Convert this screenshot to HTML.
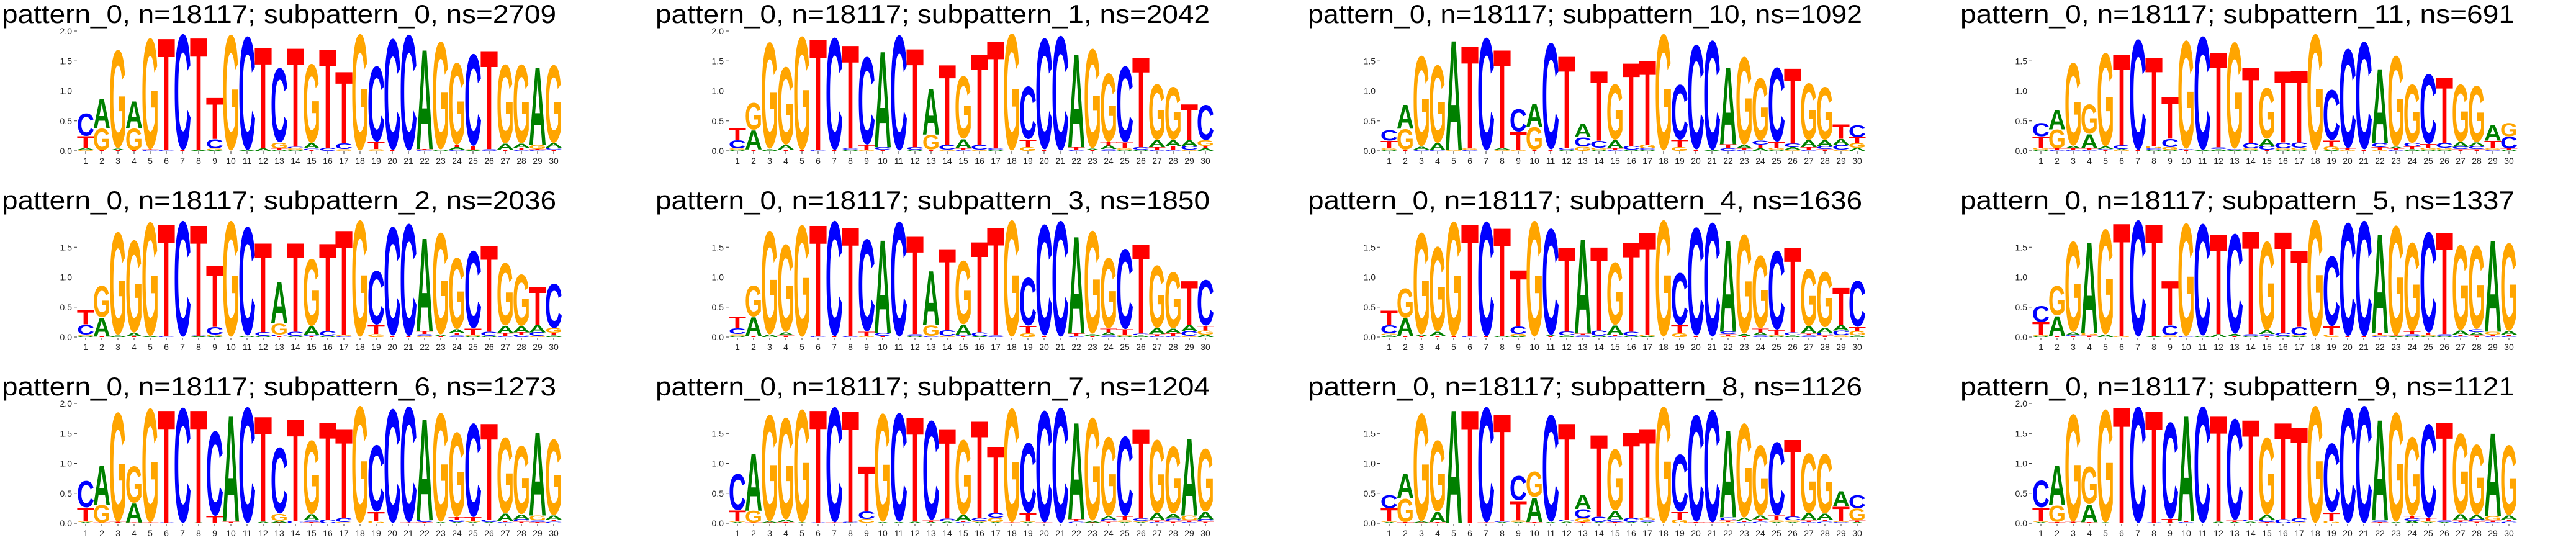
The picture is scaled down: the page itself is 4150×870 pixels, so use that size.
<!DOCTYPE html>
<html><head><meta charset="utf-8"><style>
html,body{margin:0;padding:0;background:#fff;}
svg{display:block;}
text{font-family:"Liberation Sans",sans-serif;}
</style></head><body>
<svg id="fig" width="4150" height="870" viewBox="0 0 4150 870" xmlns="http://www.w3.org/2000/svg"></svg>
<script>
const positions = [1,2,3,4,5,6,7,8,9,10,11,12,13,14,15,16,17,18,19,20,21,22,23,24,25,26,27,28,29,30];
const yTicks = [0, 0.5, 1.0, 1.5, 2.0];
const yTickLabels = ["0.0","0.5","1.0","1.5","2.0"];
const titles = ["subpattern_0","subpattern_1","subpattern_10","subpattern_11","subpattern_2","subpattern_3","subpattern_4","subpattern_5","subpattern_6","subpattern_7","subpattern_8","subpattern_9"];
const nsValues = [2709,2042,1092,691,2036,1850,1636,1337,1273,1204,1126,1121];
const patternN = 18117;
const showTop = [true,true,false,false,false,false,false,false,true,false,false,true];

const sp0_A=[.03,.51,.03,.46,0,0,0,.01,.01,0,.01,.04,.02,.02,.09,0,0,0,0,0,0,1.71,.02,.04,.01,0,.1,.07,1.33,.08];
const sp0_C=[.38,0,0,0,.01,.01,1.98,0,.16,0,1.94,0,1.27,.03,.03,.05,.1,0,1.29,1.9,1.98,.01,0,.02,1.57,.03,0,.02,.01,.03];
const sp0_G=[.02,.37,1.68,.37,1.9,0,0,0,.03,1.98,0,0,.1,.02,1.35,0,.03,1.99,.03,0,0,0,1.84,1.4,.01,0,1.35,1.35,.07,1.33];
const sp0_T=[.2,.01,.01,.01,.01,1.93,.01,1.94,.71,0,0,1.74,.02,1.7,.01,1.7,1.23,0,.12,.01,0,.02,0,.04,.06,1.7,.02,.03,.02,.02];

const sp1_A=[.02,.33,.03,.08,0,0,0,.02,0,1.65,0,.02,.79,0,.16,0,.02,0,0,0,0,1.6,.03,.06,.02,.02,.12,.1,.1,.04];
const sp1_C=[.14,0,0,0,0,.01,1.92,.02,1.5,.04,1.97,.04,0,.08,.02,.08,.02,0,.9,1.9,1.96,.02,0,.03,1.3,.04,.02,.02,.06,.6];
const sp1_G=[.02,.46,1.82,1.33,1.94,0,0,0,.02,0,0,0,.25,.02,1.07,.02,0,2.0,.06,0,0,0,1.7,1.17,.02,0,.95,.9,.02,.1];
const sp1_T=[.2,.02,0,.02,.01,1.91,.01,1.78,.08,.02,0,1.7,.02,1.38,.02,1.56,1.85,0,.13,.02,0,.04,.01,.06,.1,1.55,.04,.06,.62,.04];

const sp10_A=[.02,.41,.05,.12,1.88,0,0,.03,0,.4,0,.02,.23,.02,.14,.02,.02,0,0,0,.01,1.33,.06,.04,.02,.04,.12,.1,.1,.05];
const sp10_C=[.18,0,.02,.01,0,.02,1.93,0,.38,0,1.82,.03,.16,.12,.02,.06,.02,0,.94,1.79,1.87,.04,.02,.07,1.27,.06,.02,.05,.08,.2];
const sp10_G=[.02,.35,1.55,1.33,.02,.02,0,.02,.02,.38,0,0,.07,.03,.95,0,.06,1.99,.06,0,0,0,1.5,1.07,.03,.02,.97,.9,.02,.08];
const sp10_T=[.13,.02,0,0,0,1.76,0,1.69,.3,.02,.02,1.58,0,1.2,.02,1.43,1.45,0,.12,.02,0,.07,.02,.06,.1,1.3,.04,.03,.25,.1];

const sp11_A=[.02,.34,.04,.24,.04,.02,0,.02,.02,0,.01,.03,.01,.02,.12,.02,.02,0,.01,0,0,1.28,.03,.03,.02,.02,.08,.06,.27,.02];
const sp11_C=[.23,.02,.02,.02,.02,.06,1.89,.02,.14,.02,1.94,.03,.02,.09,.06,.1,.09,0,.86,1.7,1.84,.07,.02,.06,1.2,.08,.04,.05,.02,.2];
const sp11_G=[.03,.32,1.42,.5,1.6,.01,0,.04,.04,1.85,0,0,1.82,.02,.87,.02,.03,1.99,.06,.02,0,.02,1.55,1.0,.03,.03,.98,.96,.02,.23];
const sp11_T=[.19,.02,.02,.02,.01,1.57,.01,1.53,.72,.01,0,1.64,0,1.3,.02,1.23,1.24,0,.11,.02,.02,.04,.02,.04,.06,1.13,.03,.03,.13,.02];

const sp2_A=[.02,.32,.03,.06,.01,0,0,.01,.01,0,.02,.02,.71,.02,.15,.02,0,0,0,0,0,1.6,.03,.06,.02,.02,.12,.1,.12,.03];
const sp2_C=[.17,0,0,0,0,.01,1.98,.01,.13,0,1.86,.06,.03,.07,.02,.08,.02,0,.92,1.86,1.92,.03,0,.03,1.33,.07,.02,.04,.06,.76];
const sp2_G=[.02,.54,1.76,1.58,1.95,0,0,0,.03,1.98,0,0,.19,0,1.15,0,.02,1.99,.05,0,0,.02,1.74,1.22,.02,0,1.07,.88,.02,.08];
const sp2_T=[.24,.01,0,.01,0,1.94,0,1.91,1.06,0,0,1.54,.01,1.53,.01,1.51,1.8,0,.15,.02,.01,.05,.01,.04,.1,1.49,.05,.04,.66,.04];

const sp3_A=[.02,.32,.04,.05,0,0,0,0,0,1.6,0,.02,.93,0,.18,.01,0,0,0,0,0,1.67,.03,.05,.02,.03,.1,.08,.1,.04];
const sp3_C=[.1,0,0,0,0,.01,1.97,.02,1.58,.05,1.97,.03,.02,.1,.02,.07,.03,0,.82,1.9,1.98,.02,0,.03,1.37,.03,.02,.02,.08,.78];
const sp3_G=[.03,.53,1.77,1.5,1.91,0,0,0,.02,0,0,0,.18,.02,1.09,0,0,1.99,.06,0,0,0,1.76,1.21,.02,0,1.07,.96,.02,.07];
const sp3_T=[.2,.02,0,.03,0,1.92,.01,1.87,.07,.02,0,1.69,0,1.4,.01,1.56,1.86,0,.13,.02,0,.04,.02,.06,.09,1.54,.03,.04,.76,.08];

const sp4_A=[.03,.3,.03,.07,0,0,0,.02,.01,0,.02,.03,1.62,.02,.16,.02,.01,0,0,0,0,1.57,.04,.05,.02,.03,.12,.09,.09,.03];
const sp4_C=[.14,0,0,0,0,.01,1.96,0,.13,0,1.82,.06,.03,.09,.02,.07,0,0,.89,1.85,1.95,.04,0,.03,1.35,.05,.03,.04,.08,.79];
const sp4_G=[.03,.5,1.74,1.45,1.96,0,0,0,.04,1.98,0,0,0,0,1.07,0,.03,1.99,.06,0,0,.02,1.7,1.25,.02,0,.98,.95,.03,.07];
const sp4_T=[.25,.02,.01,.02,.01,1.94,.01,1.86,.97,0,.01,1.46,.03,1.44,.02,1.54,1.77,0,.14,.02,0,.03,.01,.06,.08,1.46,.03,.03,.64,.07];

const sp5_A=[.02,.34,.05,1.56,.04,0,0,.01,0,0,.02,.05,.04,.02,.06,.02,.01,0,0,0,0,1.7,.01,.02,.02,.02,.07,.05,1.57,.06];
const sp5_C=[.27,0,.02,0,0,0,1.99,0,.17,.01,1.91,0,1.71,.03,.03,.05,.14,0,1.2,1.94,1.97,.02,0,.03,1.72,.03,.02,.05,.02,.02];
const sp5_G=[.02,.5,1.55,.04,1.8,.01,0,0,.03,1.93,0,0,0,0,1.52,0,.02,2.0,.04,0,0,.02,1.88,1.52,.02,0,1.46,1.43,.05,1.5];
const sp5_T=[.21,.02,.01,.03,0,1.95,0,1.94,.76,0,0,1.72,.01,1.77,.02,1.74,1.32,0,.14,.01,.01,.03,.01,.04,.03,1.75,.02,.03,.02,.02];

const sp6_A=[.02,.68,.01,.33,0,0,0,.01,0,1.82,0,.03,.03,0,.1,0,0,0,0,0,0,1.73,.02,.02,.02,.02,.12,.08,1.43,.07];
const sp6_C=[.45,0,0,0,0,.01,1.97,0,1.45,0,1.98,0,1.13,.04,.03,.06,.07,0,1.14,1.95,1.98,.04,0,.04,1.6,.04,.02,.04,.03,.03];
const sp6_G=[.02,.3,1.87,.63,1.95,0,0,0,0,0,0,0,.12,0,1.26,0,.02,2.0,.04,0,0,0,1.86,1.45,.02,0,1.3,1.17,.08,1.3];
const sp6_T=[.22,.01,.01,.01,.01,1.94,0,1.94,.12,.03,0,1.81,.01,1.75,.02,1.68,1.54,0,.15,0,.01,.02,0,.04,.06,1.66,.02,.03,.02,.03];

const sp7_A=[.02,.98,.02,.04,.01,0,0,.01,.01,.02,.02,.03,.02,.03,.1,.02,.02,0,.02,0,0,1.66,.03,.05,.02,.02,.12,.08,1.33,.12];
const sp7_C=[.62,0,0,0,0,.01,1.97,.01,.13,0,1.86,0,1.7,.05,.02,.05,.08,0,1.2,1.91,1.97,.03,0,.04,1.36,.04,.02,.05,.02,.04];
const sp7_G=[.02,.2,1.82,1.74,1.93,0,0,0,.06,1.85,0,0,0,0,1.28,.02,.07,1.95,.02,0,0,0,1.76,1.35,.03,.02,1.25,1.15,.08,1.08];
const sp7_T=[.18,.01,.01,.02,0,1.94,.01,1.91,.77,0,0,1.8,.03,1.55,.02,1.67,1.15,.01,.13,.01,0,.04,.01,.03,.07,1.55,.03,.03,.03,.03];

const sp8_A=[.02,.42,.02,.17,1.95,0,0,.02,.02,.42,.02,.03,.25,.02,.14,.02,.02,0,0,0,0,1.5,.05,.06,.02,.02,.12,.1,.26,.02];
const sp8_C=[.22,0,0,0,0,0,1.97,.02,.42,0,1.83,.03,.16,.09,.05,.07,.03,0,.98,1.83,1.92,.05,.02,.03,1.25,.06,.02,.03,.02,.22];
const sp8_G=[.02,.4,1.84,1.22,0,0,0,0,.03,.43,0,0,.06,0,1.05,0,.05,1.99,.06,0,0,.02,1.61,1.2,.03,.03,1.02,1.02,.02,.2];
const sp8_T=[.21,.02,.01,.02,0,1.95,.01,1.84,.33,.02,0,1.66,.02,1.41,.02,1.48,1.53,0,.13,.02,.01,.03,.02,.04,.08,1.33,.03,.03,.24,.03];

const sp9_A=[.02,.69,.01,.3,.01,0,0,0,.01,1.81,0,.03,.02,.03,.08,0,0,0,0,0,0,1.73,.02,.04,.02,.02,.1,.07,1.43,.07];
const sp9_C=[.46,0,0,0,0,0,1.99,.01,1.65,.02,1.99,0,1.73,.03,.04,.07,.07,0,1.18,1.97,2.0,.03,0,.04,1.6,.03,.02,.04,.02,.03];
const sp9_G=[.02,.28,1.84,.64,1.93,0,0,0,0,0,0,0,0,0,1.32,0,.02,2.0,.04,0,0,0,1.87,1.35,.02,0,1.38,1.2,.07,1.2];
const sp9_T=[.22,.02,.01,.02,0,2.0,0,1.93,.06,.02,0,1.82,.03,1.72,.02,1.66,1.56,0,.14,0,0,.02,0,.04,.05,1.69,.03,.03,.03,.03];

const panelA=[sp0_A,sp1_A,sp10_A,sp11_A,sp2_A,sp3_A,sp4_A,sp5_A,sp6_A,sp7_A,sp8_A,sp9_A];
const panelC=[sp0_C,sp1_C,sp10_C,sp11_C,sp2_C,sp3_C,sp4_C,sp5_C,sp6_C,sp7_C,sp8_C,sp9_C];
const panelG=[sp0_G,sp1_G,sp10_G,sp11_G,sp2_G,sp3_G,sp4_G,sp5_G,sp6_G,sp7_G,sp8_G,sp9_G];
const panelT=[sp0_T,sp1_T,sp10_T,sp11_T,sp2_T,sp3_T,sp4_T,sp5_T,sp6_T,sp7_T,sp8_T,sp9_T];

const colors = {A:"#008000", C:"#0000ff", G:"#ffa500", T:"#ff0000"};
const NS = "http://www.w3.org/2000/svg";
const svg = document.getElementById("fig");
const titleStarts = [3,1056,2107,3158];
function mk(tag, attrs, parent){
  const e = document.createElementNS(NS, tag);
  for (const k in attrs) e.setAttribute(k, attrs[k]);
  parent.appendChild(e);
  return e;
}
for (let i = 0; i < 12; i++) {
  const col = i % 4, row = Math.floor(i / 4);
  const cx = col * 1050, ry = row * 300;
  const x0 = cx + 125, band = 26, y0 = ry + 243, ppu = 96.5;
  const yS = v => y0 - v * ppu;
  const xS = k => x0 + k * band;
  const g = mk("g", {}, svg);
  
  
  const t = mk("text", {x: titleStarts[col], y: ry + 37, "font-size": 42, fill: "#000", textLength: 893, lengthAdjust: "spacingAndGlyphs"}, g);
  
  
  t.textContent = "pattern_0, n=" + patternN + "; " + titles[i] + ", ns=" + nsValues[i];
  // y ticks
  for (let j = 0; j < yTicks.length; j++) {
    if (yTicks[j] >= 2 && !showTop[i]) continue;
    const y = yS(yTicks[j]);
    const tl = mk("line", {x1: cx + 119, x2: cx + 124, y1: y, y2: y, stroke: "#333", "stroke-width": 1}, g);
    
    
    const lb = mk("text", {x: cx + 116, y: y + 5, "font-size": 14, fill: "#222", "text-anchor": "end"}, g);
    
    
    lb.textContent = yTickLabels[j];
  }
  // x ticks
  for (let k = 0; k < positions.length; k++) {
    const xc = xS(k) + band / 2;
    const tk = mk("line", {x1: xc, x2: xc, y1: y0 + 1, y2: y0 + 5, stroke: "#333", "stroke-width": 1}, g);
    
    
    const lb = mk("text", {x: xc, y: y0 + 21, "font-size": 14, fill: "#222", "text-anchor": "middle"}, g);
    
    
    lb.textContent = positions[k];
  }
  // letters
  for (let k = 0; k < positions.length; k++) {
    const stack = [["A", panelA[i][k]], ["C", panelC[i][k]], ["G", panelG[i][k]], ["T", panelT[i][k]]]
      .filter(s => s[1] > 0).sort((a, b) => a[1] - b[1]);
    let base = 0;
    const w = band * 0.95, left = xS(k) + band * 0.025;
    for (const [L, v] of stack) {
      const yb = yS(base), h = v * ppu;
      base += v;
      if (h < 0.3) continue;
      const ov = (L === "C" || L === "G") ? 72.5 : 71.6;
      const off = (L === "C" || L === "G") ? 1.2 : 0;
      const lt = mk("text", {
        x: -w * 0.07, y: -off, "font-size": 100, "font-weight": "bold", fill: colors[L],
        textLength: w * 1.14, lengthAdjust: "spacingAndGlyphs",
        transform: "translate(" + left.toFixed(2) + "," + yb.toFixed(2) + ") scale(1," + (h / ov).toFixed(5) + ")"
      }, g);
      
      
      lt.textContent = L;
    }
  }
}
</script>
</body></html>
